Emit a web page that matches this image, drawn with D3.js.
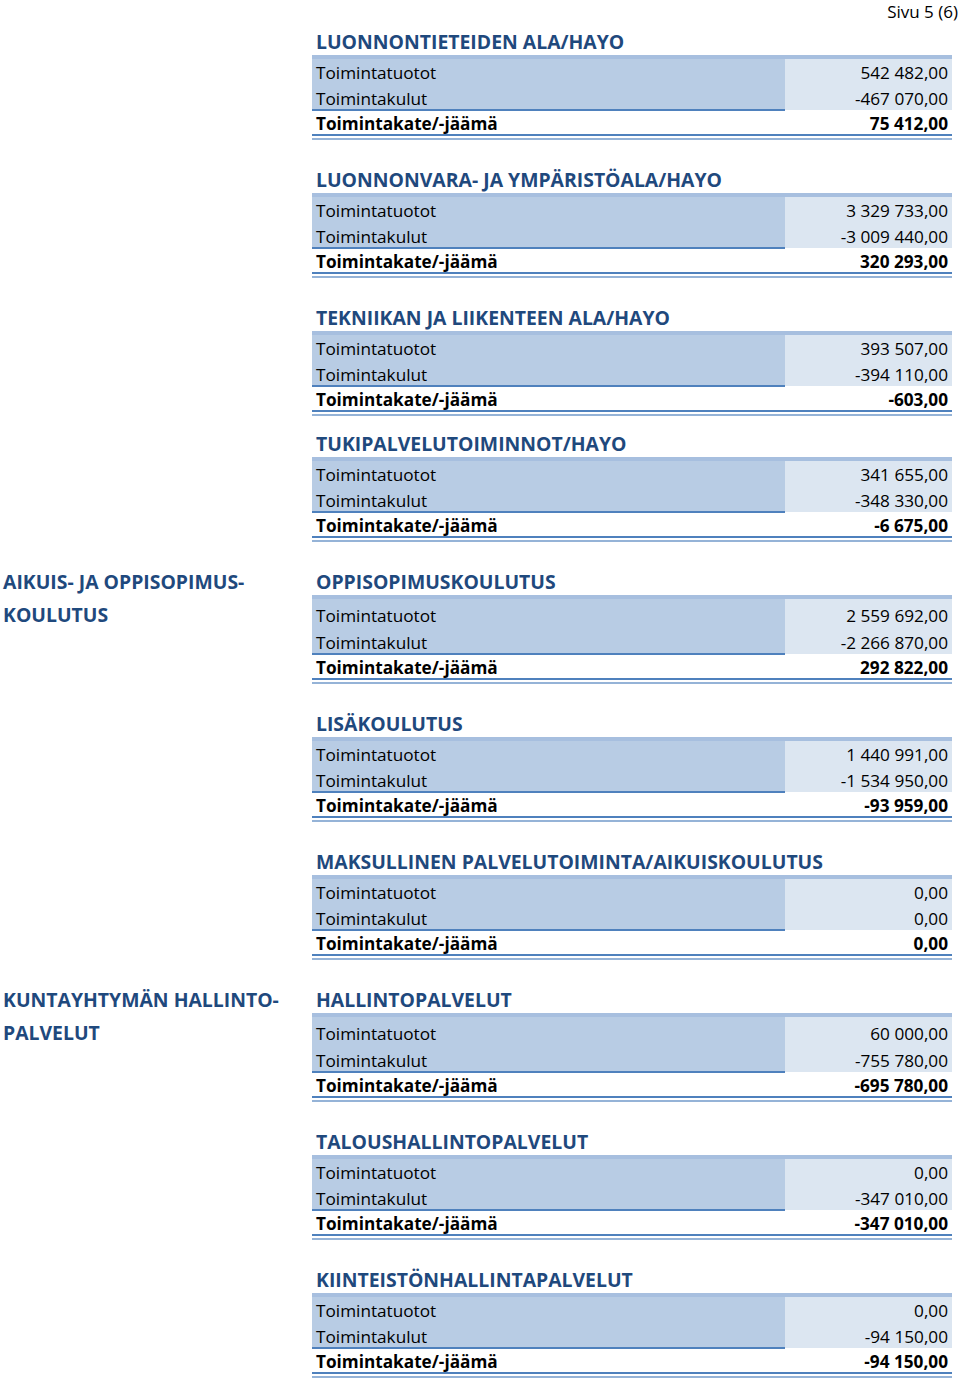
<!DOCTYPE html>
<html>
<head>
<meta charset="utf-8">
<script src="https://cdn.jsdelivr.net/npm/d3@7"></script>
<style>
	body { margin: 0; background: #fff; }
	svg { display: block; }
	text { font-family: "Open Sans", "Noto Sans", sans-serif; }
</style>
</head>
<body>
<svg id="page" width="960" height="1383"></svg>
<script>
// Units, in page order
var sections = [
	"LUONNONTIETEIDEN ALA/HAYO",
	"LUONNONVARA- JA YMPÄRISTÖALA/HAYO",
	"TEKNIIKAN JA LIIKENTEEN ALA/HAYO",
	"TUKIPALVELUTOIMINNOT/HAYO",
	"OPPISOPIMUSKOULUTUS",
	"LISÄKOULUTUS",
	"MAKSULLINEN PALVELUTOIMINTA/AIKUISKOULUTUS",
	"HALLINTOPALVELUT",
	"TALOUSHALLINTOPALVELUT",
	"KIINTEISTÖNHALLINTAPALVELUT"
];

// Groups starting at a unit (index into sections)
var groups = [
	{start: 4, label: ["AIKUIS- JA OPPISOPIMUS-", "KOULUTUS"]},
	{start: 7, label: ["KUNTAYHTYMÄN HALLINTO-", "PALVELUT"]}
];

var rowLabels = ["Toimintatuotot", "Toimintakulut", "Toimintakate/-jäämä"];

var tuotot = [542482, 3329733, 393507, 341655, 2559692, 1440991, 0, 60000, 0, 0];
var kulut = [-467070, -3009440, -394110, -348330, -2266870, -1534950, 0, -755780, -347010, -94150];
var kate = [75412, 320293, -603, -6675, 292822, -93959, 0, -695780, -347010, -94150];

var pageLabel = "Sivu 5 (6)";

// layout
var left = 312, split = 785, right = 952;
var colors = {
	head: "#1f497d",
	band: "#a7bfdf",
	fillL: "#b8cce4",
	fillR: "#dce6f1",
	line: "#4f81bd",
	line2: "#95b3d7"
};

var svg = d3.select("#page");

// Finnish number format: space thousands, comma decimals
var fmt = d3.formatLocale({decimal: ",", thousands: "\u00a0", grouping: [3], currency: ["", " €"], minus: "-"}).format(",.2f");

var isGroupStart = sections.map(function(d, i) {
	return groups.some(function(g) { return g.start === i; });
});

// heading positions: normal step 138, group starts are 4px taller
var tops = [];
var y = 41;
sections.forEach(function(d, i) {
	tops.push(y);
	var step = 138 + (isGroupStart[i] ? 4 : 0);
	if (i === 2) step = 126; // shorter gap after TEKNIIKAN in the source
	y += step;
});

var data = sections.map(function(name, i) {
	return {
		name: name,
		y: tops[i],
		extra: isGroupStart[i] ? 4 : 0,
		values: [tuotot[i], kulut[i], kate[i]]
	};
});

var rowY = d3.scaleOrdinal().domain([0, 1, 2]).range([31, 57, 82]);

svg.append("text")
	.attr("x", 958)
	.attr("y", 11)
	.attr("text-anchor", "end")
	.attr("dominant-baseline", "central")
	.style("font-size", "17px")
	.style("fill", "#000")
	.text(pageLabel);

var sec = svg.selectAll("g.section")
	.data(data)
	.enter()
	.append("g")
	.attr("class", "section")
	.attr("transform", function(d) { return "translate(0," + d.y + ")"; });

// fills
sec.append("rect")
	.attr("x", left)
	.attr("y", 17)
	.attr("width", split - left)
	.attr("height", function(d) { return 52 + d.extra; })
	.style("fill", colors.fillL);

sec.append("rect")
	.attr("x", split)
	.attr("y", 17)
	.attr("width", right - split)
	.attr("height", function(d) { return 52 + d.extra; })
	.style("fill", colors.fillR);

// top band
sec.append("rect")
	.attr("x", left)
	.attr("y", 14)
	.attr("width", right - left)
	.attr("height", 4)
	.style("fill", colors.band);

// line under left block
sec.append("rect")
	.attr("x", left)
	.attr("y", function(d) { return 68 + d.extra; })
	.attr("width", split - left)
	.attr("height", 2)
	.style("fill", colors.line);

// double line
sec.append("rect")
	.attr("x", left)
	.attr("y", function(d) { return 93 + d.extra; })
	.attr("width", right - left)
	.attr("height", 2)
	.style("fill", colors.line);

sec.append("rect")
	.attr("x", left)
	.attr("y", function(d) { return 97 + d.extra; })
	.attr("width", right - left)
	.attr("height", 2)
	.style("fill", colors.line2);

// heading
sec.append("text")
	.attr("x", 316)
	.attr("y", 0)
	.attr("dominant-baseline", "central")
	.style("font-size", "19.4px")
	.style("font-weight", "bold")
	.style("fill", colors.head)
	.text(function(d) { return d.name; });

// rows
var rows = sec.selectAll("g.row")
	.data(function(d) {
		return d.values.map(function(v, j) {
			return {label: rowLabels[j], value: v, j: j, extra: d.extra};
		});
	})
	.enter()
	.append("g")
	.attr("class", "row")
	.attr("transform", function(d) {
		var off = d.extra ? (d.j === 0 ? 3 : 4) : 0;
		return "translate(0," + (rowY(d.j) + off) + ")";
	});

rows.append("text")
	.attr("x", 316)
	.attr("dominant-baseline", "central")
	.style("font-size", "17.2px")
	.style("font-weight", function(d) { return d.j === 2 ? "bold" : "normal"; })
	.text(function(d) { return d.label; });

rows.append("text")
	.attr("x", 948)
	.attr("text-anchor", "end")
	.attr("dominant-baseline", "central")
	.style("font-size", "17.2px")
	.style("font-weight", function(d) { return d.j === 2 ? "bold" : "normal"; })
	.text(function(d) { return fmt(d.value); });

// group labels on the left
var grp = svg.selectAll("g.group")
	.data(groups)
	.enter()
	.append("g")
	.attr("class", "group")
	.attr("transform", function(d) { return "translate(3," + tops[d.start] + ")"; });

grp.selectAll("text")
	.data(function(d) { return d.label; })
	.enter()
	.append("text")
	.attr("y", function(d, i) { return i * 33; })
	.attr("dominant-baseline", "central")
	.style("font-size", "19.4px")
	.style("font-weight", "bold")
	.style("fill", colors.head)
	.text(function(d) { return d; });
</script>
</body>
</html>
